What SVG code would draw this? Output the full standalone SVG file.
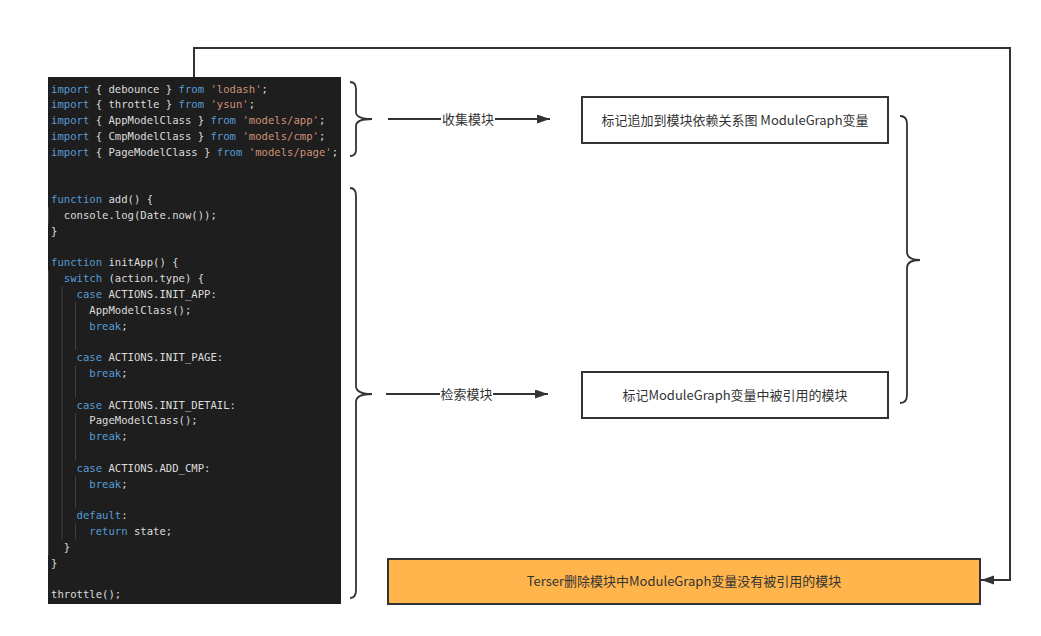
<svg xmlns="http://www.w3.org/2000/svg" width="1041" height="636" viewBox="0 0 1041 636">
<defs>
<style>
.code{font-family:"DejaVu Sans Mono","Liberation Mono",monospace;font-size:10.6px;fill:#dcdcdc;white-space:pre}
.k{fill:#569cd6}
.s{fill:#ce9178}
.g{stroke:#404040;stroke-width:1}
.lbl{font-family:"Noto Sans CJK SC","Noto Sans",sans-serif;font-size:13px;fill:#333333;text-anchor:middle}
.box{fill:#ffffff;stroke:#333333;stroke-width:2}
.brace{fill:none;stroke:#333333;stroke-width:1.8}
.edge{fill:none;stroke:#333333;stroke-width:2}
</style>
<marker id="arr" markerUnits="userSpaceOnUse" markerWidth="14" markerHeight="10" refX="13" refY="4.5" orient="auto">
<path d="M0,0 L13,4.5 L0,9 Z" fill="#333333"/>
</marker>
</defs>
<rect width="1041" height="636" fill="#ffffff"/>

<g id="code">
<rect x="48" y="77" width="293" height="527" fill="#1e1e1e"/>
<line class="g" x1="48.5" y1="207.5" x2="48.5" y2="223.3"/>
<line class="g" x1="48.5" y1="270.7" x2="48.5" y2="555.1"/>
<line class="g" x1="62" y1="286.5" x2="62" y2="539.3"/>
<line class="g" x1="75.5" y1="302.3" x2="75.5" y2="349.7"/>
<line class="g" x1="75.5" y1="365.5" x2="75.5" y2="397.1"/>
<line class="g" x1="75.5" y1="412.9" x2="75.5" y2="460.3"/>
<line class="g" x1="75.5" y1="476.1" x2="75.5" y2="507.7"/>
<line class="g" x1="75.5" y1="523.5" x2="75.5" y2="539.3"/>
<text class="code" x="51" y="92.5"><tspan class="k">import</tspan> { debounce } <tspan class="k">from</tspan> <tspan class="s">'lodash'</tspan>;</text>
<text class="code" x="51" y="108.3"><tspan class="k">import</tspan> { throttle } <tspan class="k">from</tspan> <tspan class="s">'ysun'</tspan>;</text>
<text class="code" x="51" y="124.1"><tspan class="k">import</tspan> { AppModelClass } <tspan class="k">from</tspan> <tspan class="s">'models/app'</tspan>;</text>
<text class="code" x="51" y="139.9"><tspan class="k">import</tspan> { CmpModelClass } <tspan class="k">from</tspan> <tspan class="s">'models/cmp'</tspan>;</text>
<text class="code" x="51" y="155.7"><tspan class="k">import</tspan> { PageModelClass } <tspan class="k">from</tspan> <tspan class="s">'models/page'</tspan>;</text>
<text class="code" x="51" y="203.1"><tspan class="k">function</tspan> add() {</text>
<text class="code" x="63.8" y="218.9">console.log(Date.now());</text>
<text class="code" x="51" y="234.7">}</text>
<text class="code" x="51" y="266.3"><tspan class="k">function</tspan> initApp() {</text>
<text class="code" x="63.8" y="282.1"><tspan class="k">switch</tspan> (action.type) {</text>
<text class="code" x="76.5" y="297.9"><tspan class="k">case</tspan> ACTIONS.INIT_APP:</text>
<text class="code" x="89.3" y="313.7">AppModelClass();</text>
<text class="code" x="89.3" y="329.5"><tspan class="k">break</tspan>;</text>
<text class="code" x="76.5" y="361.1"><tspan class="k">case</tspan> ACTIONS.INIT_PAGE:</text>
<text class="code" x="89.3" y="376.9"><tspan class="k">break</tspan>;</text>
<text class="code" x="76.5" y="408.5"><tspan class="k">case</tspan> ACTIONS.INIT_DETAIL:</text>
<text class="code" x="89.3" y="424.3">PageModelClass();</text>
<text class="code" x="89.3" y="440.1"><tspan class="k">break</tspan>;</text>
<text class="code" x="76.5" y="471.7"><tspan class="k">case</tspan> ACTIONS.ADD_CMP:</text>
<text class="code" x="89.3" y="487.5"><tspan class="k">break</tspan>;</text>
<text class="code" x="76.5" y="519.1"><tspan class="k">default</tspan>:</text>
<text class="code" x="89.3" y="534.9"><tspan class="k">return</tspan> state;</text>
<text class="code" x="63.8" y="550.7">}</text>
<text class="code" x="51" y="566.5">}</text>
<text class="code" x="51" y="598.1">throttle();</text>
</g>

<g id="braces">
<path class="brace" d="M350,82 Q356,82 356,89 L356,112 Q356,119 372,119 Q356,119 356,126 L356,150 Q356,156 350,156"/>
<path class="brace" d="M350,188 Q356,188 356,196 L356,386 Q356,394 372,394 Q356,394 356,402 L356,590 Q356,598 350,598"/>
<path class="brace" d="M900,116 Q907,116 907,124 L907,252 Q907,260 920,260 Q907,260 907,268 L907,395 Q907,403 900,403"/>
</g>

<g id="node-collect">
<rect class="box" x="582" y="97" width="306" height="46"/>
<text class="lbl" x="735" y="124.5">标记追加到模块依赖关系图 ModuleGraph变量</text>
</g>
<g id="node-mark">
<rect class="box" x="582" y="372" width="306" height="46"/>
<text class="lbl" x="735" y="399.5">标记ModuleGraph变量中被引用的模块</text>
</g>
<g id="node-terser">
<rect x="388" y="559" width="592" height="45" fill="#ffb54c" stroke="#333333" stroke-width="2"/>
<text class="lbl" x="684" y="586">Terser删除模块中ModuleGraph变量没有被引用的模块</text>
</g>

<g id="connectors">
<line class="edge" x1="388" y1="119" x2="550" y2="119" marker-end="url(#arr)"/>
<rect x="441" y="110" width="54" height="18" fill="#ffffff"/>
<text class="lbl" x="468" y="123.5">收集模块</text>
<line class="edge" x1="386" y1="394" x2="548" y2="394" marker-end="url(#arr)"/>
<rect x="440" y="385" width="53" height="18" fill="#ffffff"/>
<text class="lbl" x="466.5" y="398.5">检索模块</text>
<path class="edge" d="M194,77 L194,48 L1010,48 L1010,580 L981,580" marker-end="url(#arr)"/>
</g>
</svg>
